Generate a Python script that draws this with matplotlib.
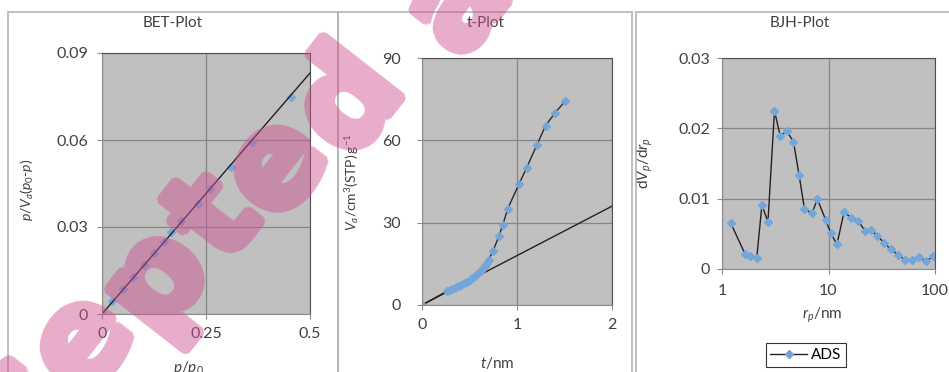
"""BET, t-plot and BJH panels for a porous sample (Excel style look)

"""

import numpy as np
import matplotlib
matplotlib.use('Agg')
import matplotlib.pyplot as plt
from matplotlib.patches import Rectangle
from matplotlib.lines import Line2D

plt.rcParams['font.family'] = ['Lato', 'DejaVu Sans']
plt.rcParams['mathtext.fontset'] = 'custom'
plt.rcParams['mathtext.rm'] = 'Lato'
plt.rcParams['mathtext.it'] = 'Lato:italic'

# BET plot: p/p0 vs p/Va(p0-p), plus linear fit
bet_x = [0, 0.024, 0.05, 0.075, 0.10, 0.125, 0.15, 0.165, 0.19, 0.23, 0.26, 0.31, 0.36, 0.455]
bet_y = [0, 0.0044, 0.0087, 0.0128, 0.0168, 0.0209, 0.0250, 0.0283, 0.0319, 0.0381,
         0.0430, 0.0508, 0.0594, 0.0749]
bet_fit_x = [0, 0.5]
bet_fit_y = [0, 0.0831]

# t-plot: t (nm) vs Va (cm3 STP / g), plus linear fit
t_x = [0, 0.26, 0.29, 0.32, 0.35, 0.38, 0.41, 0.44, 0.47, 0.50, 0.53, 0.56, 0.59, 0.62,
       0.64, 0.66, 0.68, 0.70, 0.75, 0.81, 0.85, 0.90, 1.02, 1.10, 1.21, 1.30, 1.40, 1.51]
t_y = [0, 5.0, 5.4, 5.8, 6.3, 6.8, 7.3, 7.9, 8.5, 9.1, 9.8, 10.6, 11.5, 12.5,
       13.3, 14.3, 15.4, 16.5, 19.8, 25.2, 29.2, 34.9, 44.0, 49.9, 58.4, 65.3, 70.0, 74.4]
t_fit_x = [0, 2]
t_fit_y = [0, 36]

# BJH plot: rp (nm) vs dVp/drp
bjh_x = [1.21, 1.65, 1.84, 2.12, 2.37, 2.70, 3.11, 3.52, 4.06, 4.69, 5.30, 5.94, 6.97,
         7.87, 9.4, 10.5, 12.0, 14.0, 16.3, 19.1, 22.0, 25.2, 28.8, 33.5, 38.4, 45.2,
         52.2, 60.4, 71.0, 82.2, 96.2]
bjh_y = [0.0065, 0.0021, 0.0019, 0.0016, 0.0091, 0.0067, 0.0225, 0.0189, 0.0196, 0.0181,
         0.0133, 0.0086, 0.0079, 0.0099, 0.0070, 0.0051, 0.0035, 0.0081, 0.0073, 0.0068,
         0.0054, 0.0055, 0.0047, 0.0037, 0.0028, 0.0020, 0.0013, 0.0013, 0.0017, 0.0011,
         0.0018]

watermark = 'Accepted article'

W, H = 949, 372
BLUE = '#74a6da'
TXT = '#404040'
PINK = (207 / 255, 82 / 255, 147 / 255)

# rough DejaVu Sans Bold advance widths (em) for laying out the watermark
ADV = {'A': 0.774, 'c': 0.593, 'e': 0.678, 'p': 0.716, 't': 0.478, 'd': 0.716,
       ' ': 0.348, 'a': 0.675, 'r': 0.493, 'i': 0.343, 'l': 0.343}


def box(l, t, r, b):
    """pixel box (left, top, right, bottom) -> figure fraction rect"""
    return [l / W, 1 - b / H, (r - l) / W, (b - t) / H]


def style(ax, xpad, ypad):
    ax.set_facecolor('#c0c0c0')
    ax.grid(True, color='#868686', linewidth=0.9)
    ax.set_axisbelow(True)
    for s in ['top', 'right']:
        ax.spines[s].set_color('#505050')
    for s in ['left', 'bottom']:
        ax.spines[s].set_color('#8c8c8c')
    ax.tick_params(axis='both', which='major', length=3.5, color='#8c8c8c',
                   labelcolor=TXT, labelsize=11.5)
    ax.tick_params(axis='x', pad=xpad)
    ax.tick_params(axis='y', pad=ypad)
    ax.tick_params(which='minor', length=0)


def fatten(im, dpi, px=5, alpha=0.48):
    # dilate the rendered glyphs so the watermark gets heavy strokes
    a = np.pad(im[..., 3], px, 'constant')
    out = a.copy()
    for dy in range(-px, px + 1):
        for dx in range(-px, px + 1):
            if dx * dx + dy * dy <= px * px:
                out = np.maximum(out, np.roll(np.roll(a, dy, 0), dx, 1))
    new = np.zeros((*out.shape, 4))
    new[..., :3] = PINK
    new[..., 3] = out * alpha
    return new, -px, -px


fig = plt.figure(figsize=(W / 100, H / 100), dpi=100)

# chart area frames
for l, r in [(8, 338), (338, 632), (636, 964)]:
    fig.add_artist(Rectangle((l / W, -0.2), (r - l) / W, 1.2 - 12 / H,
                             transform=fig.transFigure, fill=False,
                             edgecolor='#b4b4b4', linewidth=1.2))

# BET
ax1 = fig.add_axes(box(102, 53, 310, 314))
ax1.plot(bet_x, bet_y, linestyle='none', marker='D', markersize=4.5, color=BLUE, alpha=0.9)
ax1.plot(bet_fit_x, bet_fit_y, color='#222222', linewidth=1)
ax1.set_xlim(0, 0.5)
ax1.set_ylim(0, 0.09)
ax1.set_xticks([0, 0.25, 0.5], ['0', '0.25', '0.5'])
ax1.set_yticks([0, 0.03, 0.06, 0.09], ['0', '0.03', '0.06', '0.09'])
style(ax1, 5.5, 6.5)
ax1.set_ylabel(r'$p/V_a(p_{\mathrm{0}}$-$p)$', fontsize=10, color=TXT)
ax1.yaxis.set_label_coords(36 / W, 1 - 190 / H, transform=fig.transFigure)
ax1.set_xlabel(r'$p/p_{\mathrm{0}}$', fontsize=11, color=TXT)
ax1.xaxis.set_label_coords(188 / W, 1 - 359 / H, transform=fig.transFigure)
fig.text(173 / W, 1 - 23 / H, 'BET-Plot', ha='center', va='center', fontsize=11, color=TXT)

# t-plot
ax2 = fig.add_axes(box(422, 58, 612, 305))
ax2.plot(t_fit_x, t_fit_y, color='#222222', linewidth=1)
ax2.plot(t_x, t_y, color='#222222', linewidth=1, marker='D', markersize=4.5,
         markerfacecolor=BLUE, markeredgecolor=BLUE, alpha=0.95)
ax2.set_xlim(0, 2)
ax2.set_ylim(0, 90)
ax2.set_xticks([0, 1, 2])
ax2.set_yticks([0, 30, 60, 90])
style(ax2, 6, 12)
ax2.set_ylabel(r'$V_a/\mathrm{cm^3(STP)\,g^{-1}}$', fontsize=10, color=TXT)
ax2.yaxis.set_label_coords(361 / W, 1 - 182 / H, transform=fig.transFigure)
ax2.set_xlabel(r'$t/\mathrm{nm}$', fontsize=11, color=TXT)
ax2.xaxis.set_label_coords(497 / W, 1 - 355 / H, transform=fig.transFigure)
fig.text(486 / W, 1 - 23 / H, 't-Plot', ha='center', va='center', fontsize=11, color=TXT)

# BJH
ax3 = fig.add_axes(box(722, 58, 935, 269))
ax3.plot(bjh_x, bjh_y, color='#222222', linewidth=1, marker='D', markersize=4.5,
         markerfacecolor=BLUE, markeredgecolor=BLUE)
ax3.set_xscale('log')
ax3.set_xlim(1, 100)
ax3.set_ylim(0, 0.03)
ax3.set_xticks([1, 10, 100], ['1', '10', '100'])
ax3.set_yticks([0, 0.01, 0.02, 0.03], ['0', '0.01', '0.02', '0.03'])
style(ax3, 7, 5)
ax3.set_ylabel(r'$\mathrm{d}V_p/\mathrm{d}r_p$', fontsize=11, color=TXT)
ax3.yaxis.set_label_coords(655 / W, 1 - 163 / H, transform=fig.transFigure)
ax3.set_xlabel(r'$r_p/\mathrm{nm}$', fontsize=11, color=TXT)
ax3.xaxis.set_label_coords(822 / W, 1 - 306 / H, transform=fig.transFigure)
fig.text(800 / W, 1 - 23 / H, 'BJH-Plot', ha='center', va='center', fontsize=11, color=TXT)

handle = Line2D([], [], color='#222222', linewidth=1, marker='D', markersize=4,
                markerfacecolor=BLUE, markeredgecolor=BLUE)
leg = fig.legend([handle], ['ADS'], loc='center', bbox_to_anchor=(806 / W, 1 - 355 / H),
                 frameon=True, fancybox=False, edgecolor='black', fontsize=11,
                 handlelength=2.4, handletextpad=0.3, borderpad=0.3)
leg.get_frame().set_linewidth(0.8)

# journal watermark: skewed heavy letters on one overlay so overlaps don't stack
wm_ax = fig.add_axes([0, 0, 1, 1], zorder=10)
wm_ax.axis('off')
em = 130            # glyph size, px
step = 140          # px per em of advance along the line
line_ang = np.deg2rad(42)
glyph_rot = 52
ux, uy = np.cos(line_ang), -np.sin(line_ang)
gr = np.deg2rad(glyph_rot)
upx, upy = -np.sin(gr), -np.cos(gr)          # glyph "up" in image pixels
cx3, cy3 = 82, 340                             # centre of the 4th letter, image pixels
adv = np.array([ADV.get(ch, 0.6) for ch in watermark])
mid = np.cumsum(adv) - adv / 2
for i, ch in enumerate(watermark):
    if ch == ' ':
        continue
    d = (mid[i] - mid[3]) * step
    px_ = cx3 + d * ux - 0.27 * em * upx
    py_ = cy3 + d * uy - 0.27 * em * upy
    wm_ax.text(px_ / W, 1 - py_ / H, ch, transform=fig.transFigure,
               fontsize=em * 72 / 100, fontweight='bold', family='DejaVu Sans',
               color=PINK, rotation=glyph_rot, rotation_mode='anchor',
               ha='center', va='baseline')
wm_ax.set_agg_filter(fatten)

fig.savefig('out.png', dpi=100)
